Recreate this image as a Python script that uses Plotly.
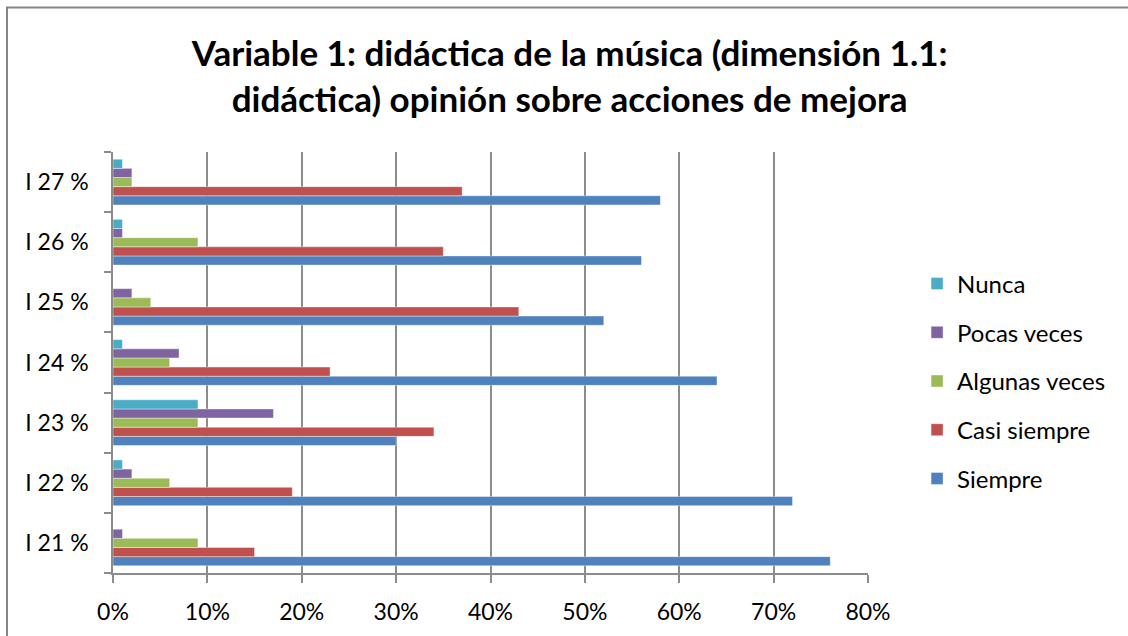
import plotly.graph_objects as go

categories = ["I 21 %", "I 22 %", "I 23 %", "I 24 %", "I 25 %", "I 26 %", "I 27 %"]
siempre = [76, 72, 30, 64, 52, 56, 58]
casi_siempre = [15, 19, 34, 23, 43, 35, 37]
algunas_veces = [9, 6, 9, 6, 4, 9, 2]
pocas_veces = [1, 2, 17, 7, 2, 1, 2]
nunca = [0, 1, 9, 1, 0, 1, 1]

series = [
    ("Siempre", siempre, "#4F81BD"),
    ("Casi siempre", casi_siempre, "#C0504D"),
    ("Algunas veces", algunas_veces, "#9BBB59"),
    ("Pocas veces", pocas_veces, "#8064A2"),
    ("Nunca", nunca, "#4BACC6"),
]

FONT = "Lato, Open Sans, sans-serif"
GRID = "#8c8c8c"

fig = go.Figure()
for i, (name, vals, color) in enumerate(series):
    fig.add_trace(go.Bar(
        y=categories, x=[v / 100 for v in vals], name=name, orientation="h",
        legendgroup=name, legendrank=len(series) - i,
        marker=dict(color=color, line=dict(color="rgba(255,255,255,0.5)", width=0.8)),
    ))

fig.update_layout(
    barmode="group", bargap=0.24, bargroupgap=0,
    width=1128, height=636,
    margin=dict(l=113, r=260, t=152, b=63),
    paper_bgcolor="white", plot_bgcolor="white",
    font=dict(family=FONT, color="#000000", size=22),
    title=dict(
        text="<b>Variable 1: didáctica de la música (dimensión 1.1:<br>didáctica) opinión sobre acciones de mejora</b>",
        x=0.505, xanchor="center", y=0.896, yanchor="middle",
        font=dict(family=FONT, size=35, color="#000000"),
    ),
    legend=dict(
        traceorder="grouped", tracegroupgap=14.5,
        x=1.065, xanchor="left", y=0.456, yanchor="middle",
        font=dict(family=FONT, size=24),
    ),
    showlegend=True,
)

fig.update_xaxes(
    range=[0, 0.8], dtick=0.1, tickformat=".0%",
    showgrid=True, gridcolor=GRID, gridwidth=1.5,
    showline=True, linecolor=GRID, linewidth=1.5,
    ticks="outside", ticklen=8, tickcolor=GRID, tickwidth=1.5,
    ticklabelstandoff=10, zeroline=False, tickfont=dict(size=23),
)
fig.update_yaxes(
    showgrid=False, showline=True, linecolor=GRID, linewidth=1.5,
    ticks="outside", tickson="boundaries", ticklen=7, tickcolor=GRID, tickwidth=1.5,
    ticklabelstandoff=18, tickfont=dict(size=23),
)

# outer chart border (runs off the bottom/right edge as in the original)
fig.add_shape(type="rect", xref="paper", yref="paper",
              x0=(7 - 113) / 755, x1=(1135 - 113) / 755,
              y0=(573 - 645) / 421, y1=(573 - 7.5) / 421,
              line=dict(color="#868686", width=2), layer="below")

fig.write_html("out.html", config={"displayModeBar": False},
               post_script="document.body.style.margin='0';")
